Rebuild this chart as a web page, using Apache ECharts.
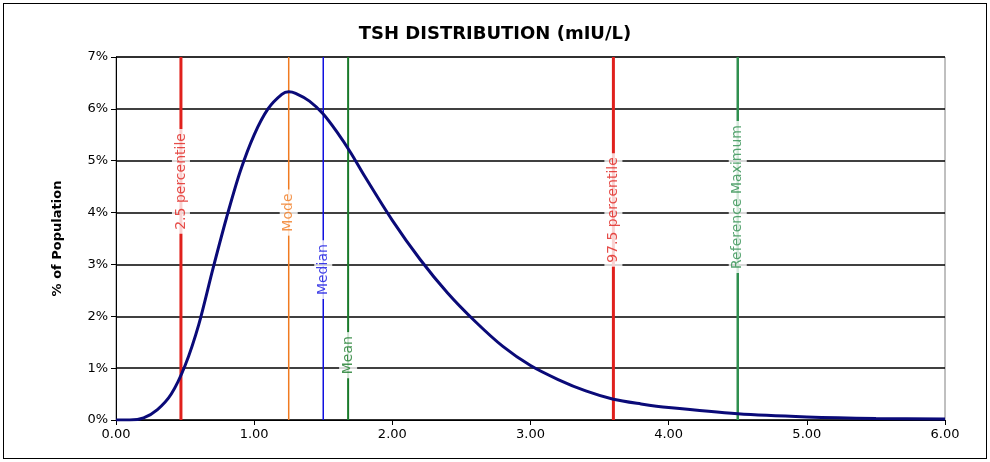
<!DOCTYPE html>
<html>
<head>
<meta charset="utf-8">
<script src="https://cdn.jsdelivr.net/npm/echarts@6/dist/echarts.min.js"></script>
<style>
html,body{margin:0;padding:0;background:#fff;}
#main{position:absolute;left:3px;top:3px;width:982px;height:454px;border:1px solid #000;}
</style>
</head>
<body>
<div id="main"></div>
<script>
// curve: TSH value (mIU/L) vs % of population
var tshX = [0, 0.1, 0.2, 0.3, 0.4, 0.5, 0.6, 0.7, 0.8, 0.9, 1.0, 1.1, 1.2, 1.25, 1.3, 1.4, 1.5, 1.6, 1.7, 1.8, 2.0, 2.2, 2.4, 2.6, 2.8, 3.0, 3.2, 3.4, 3.6, 3.8, 4.0, 4.5, 5.0, 5.5, 6.0];
var tshY = [0, 0.0, 0.04, 0.2, 0.5, 1.05, 1.85, 2.9, 3.9, 4.8, 5.5, 6.0, 6.28, 6.33, 6.3, 6.15, 5.9, 5.55, 5.15, 4.7, 3.85, 3.1, 2.45, 1.9, 1.42, 1.05, 0.78, 0.56, 0.4, 0.31, 0.24, 0.12, 0.06, 0.03, 0.02];
// reference lines
var markNames = ['2.5 percentile', 'Mode', 'Median', 'Mean', '97.5 percentile', 'Reference Maximum'];
var markX = [0.47, 1.25, 1.5, 1.68, 3.6, 4.5];
var markLabelY = [4.6, 4.0, 2.9, 1.25, 4.05, 4.3];
var markColor = ['#e0201c', '#f07a20', '#1010e0', '#1a7a2a', '#e0201c', '#2f8f4f'];
var markWidth = [3, 1.5, 1.5, 2, 3, 2.5];

var series = [{
  type: 'line', smooth: 0.3, symbol: 'none',
  data: tshX.map(function (x, i) { return [x, tshY[i]]; }),
  lineStyle: { color: '#0a0a78', width: 3 }, z: 5
}];
markNames.forEach(function (n, i) {
  series.push({
    type: 'line', symbol: 'none', silent: true, z: 3,
    data: [[markX[i], 0], [markX[i], 7]],
    lineStyle: { color: markColor[i], width: markWidth[i] }
  });
  series.push({
    type: 'scatter', symbolSize: 0, z: 4, silent: true,
    data: [[markX[i], markLabelY[i]]],
    label: {
      show: true, position: 'inside', rotate: 90, formatter: n,
      color: markColor[i], fontSize: 14, fontFamily: 'DejaVu Sans',
      backgroundColor: '#fff', padding: [2, 4]
    }
  });
});

var chart = echarts.init(document.getElementById('main'));
chart.setOption({
  animation: false,
  title: {
    text: 'TSH DISTRIBUTION (mIU/L)', left: 'center', top: 16,
    textStyle: { fontFamily: 'DejaVu Sans', fontWeight: 'bold', fontSize: 18, color: '#000' }
  },
  grid: { left: 112, right: 41, top: 53, bottom: 38, show: true, borderColor: '#808080', borderWidth: 1 },
  xAxis: {
    type: 'value', min: 0, max: 6, interval: 1,
    axisLine: { lineStyle: { color: '#000' } },
    axisTick: { show: true, length: 5, lineStyle: { color: '#000' } },
    splitLine: { show: false },
    axisLabel: { color: '#000', fontSize: 13, fontFamily: 'DejaVu Sans', formatter: function (v) { return v.toFixed(2); } }
  },
  yAxis: {
    type: 'value', min: 0, max: 7, interval: 1,
    name: '% of Population', nameLocation: 'middle', nameGap: 52,
    nameTextStyle: { fontFamily: 'DejaVu Sans', fontWeight: 'bold', fontSize: 13, color: '#000' },
    axisLine: { show: true, lineStyle: { color: '#000' } },
    axisTick: { show: true, length: 5, lineStyle: { color: '#000' } },
    splitLine: { lineStyle: { color: '#000', width: 1.5 } },
    axisLabel: { color: '#000', fontSize: 13, fontFamily: 'DejaVu Sans', formatter: '{value}%' }
  },
  series: series
});
</script>
</body>
</html>
